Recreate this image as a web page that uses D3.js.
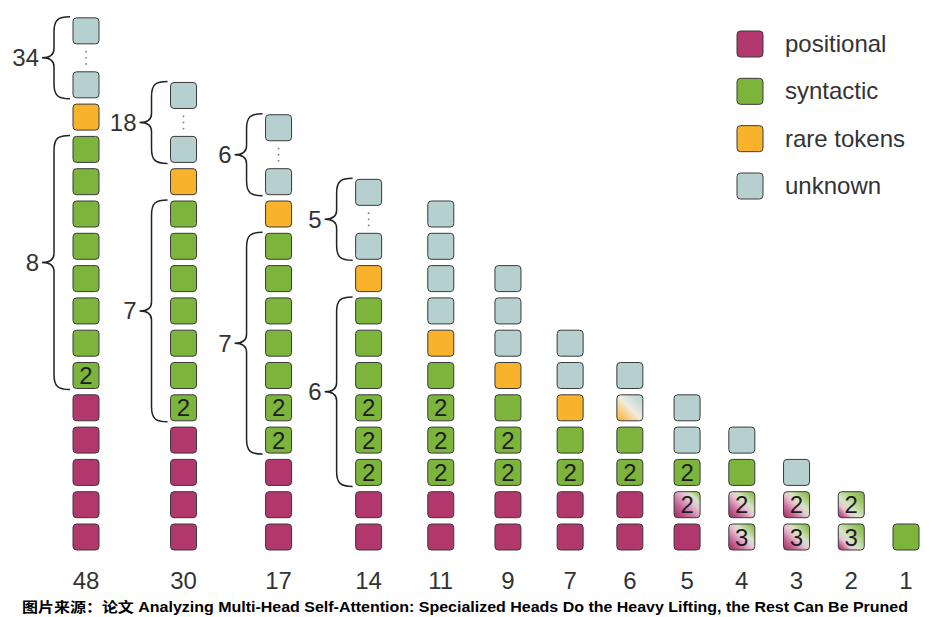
<!DOCTYPE html>
<html>
<head>
<meta charset="utf-8">
<script src="https://cdn.jsdelivr.net/npm/d3@7"></script>
<style>
  html, body { margin: 0; padding: 0; background: #fff; }
  svg { display: block; }
  text { font-family: "Liberation Sans", Arial, "Noto Sans CJK SC", sans-serif; }
</style>
</head>
<body>
<svg id="chart" width="941" height="617"></svg>
<script>
// ---------------- data ----------------
const colLabels = ["48", "30", "17", "14", "11", "9", "7", "6", "5", "4", "3", "2", "1"];
// Stack of heads in each column, bottom to top.
// P positional, S syntactic, S2 syntactic (x2), R rare tokens, U unknown,
// PS2 / PS3 mixed positional/syntactic, RU mixed rare/unknown
const stacks = [
  ["P","P","P","P","P","S2","S","S","S","S","S","S","S","R","U"],
  ["P","P","P","P","S2","S","S","S","S","S","S","R","U"],
  ["P","P","P","S2","S2","S","S","S","S","S","R","U"],
  ["P","P","S2","S2","S2","S","S","S","R","U"],
  ["P","P","S2","S2","S2","S","R","U","U","U","U"],
  ["P","P","S2","S2","S","R","U","U","U"],
  ["P","P","S2","S","R","U","U"],
  ["P","P","S2","S","RU","U"],
  ["P","PS2","S2","U","U"],
  ["PS3","PS2","S","U"],
  ["PS3","PS2","U"],
  ["PS3","PS2"],
  ["S"]
];
// number of unknown heads collapsed into the top group of a column (0 = none)
const collapsedUnknown = [34, 18, 6, 5, 0, 0, 0, 0, 0, 0, 0, 0, 0];
// share of the second function in mixed heads of each column
const mixShare = [0, 0, 0, 0, 0, 0, 0, 0.5, 0.25, 0.42, 0.45, 0.68, 0];
const legendLabels = ["positional", "syntactic", "rare tokens", "unknown"];
const legendKeys = ["P", "S", "R", "U"];
const caption = "图片来源：论文 Analyzing Multi-Head Self-Attention: Specialized Heads Do the Heavy Lifting, the Rest Can Be Pruned";

// ---------------- style ----------------
const colors = { P: "#b1376d", S: "#7db43c", R: "#f8b22c", U: "#b6d0d0" };
const SQ = 26, RX = 3.5;
const svg = d3.select("#chart");
const defs = svg.append("defs");

// ---------------- scales ----------------
// column slot width grows with column height, braced columns get extra room
const drawnCount = stacks.map((s, i) => s.length + (collapsedUnknown[i] ? 1 : 0));
const steps = drawnCount.map((n, i) => i === 0 ? 0 : Math.max(55, 45 + 2.5 * n) + (collapsedUnknown[i] ? 18 : 0));
const cum = [];
steps.reduce((a, s, i) => (cum[i] = a + s), 0);
const xUnits = d3.scaleLinear().domain([0, cum[cum.length - 1]]).range([86, 906]);
const xCol = i => xUnits(cum[i]);

const y = d3.scaleLinear().domain([0, 15]).range([537, 537 - 15 * 32.3]);
const collapseGap = 1.67;

// ---------------- gradients ----------------
function gradientFor(code, share) {
  const id = "g_" + code + "_" + Math.round(share * 100);
  if (!defs.select("#" + id).empty()) return id;
  const g = defs.append("linearGradient").attr("id", id)
    .attr("x1", 0).attr("y1", 1).attr("x2", 1).attr("y2", 0);
  const m = 1 - share;
  let stops;
  if (code === "RU") {
    stops = [[0, colors.R], [m * 0.55, "#f7cf86"], [m, "#f1ece0"], [m + (1 - m) * 0.55, "#c9dcdb"], [1, colors.U]];
  } else {
    stops = [[0, "#9c285b"], [m * 0.45, "#c8699a"], [m * 0.85, "#e6c3d3"], [m + (1 - m) * 0.15, "#d6e4c4"],
             [m + (1 - m) * 0.6, "#a3c96f"], [1, colors.S]];
  }
  g.selectAll("stop").data(stops).join("stop")
    .attr("offset", d => d[0]).attr("stop-color", d => d[1]);
  return id;
}

function fillFor(code, col) {
  if (code === "RU" || code === "PS2" || code === "PS3") return "url(#" + gradientFor(code === "RU" ? "RU" : "PS", mixShare[col]) + ")";
  return colors[code[0]];
}

// ---------------- build cells ----------------
const cells = [];
stacks.forEach((stack, c) => {
  stack.forEach((code, r) => {
    cells.push({ c, r, code });
    if (r === stack.length - 1 && collapsedUnknown[c]) {
      cells.push({ c, r: r + collapseGap, code });
    }
  });
});

const gCells = svg.append("g");
gCells.selectAll("rect").data(cells).join("rect")
  .attr("x", d => xCol(d.c) - SQ / 2)
  .attr("y", d => y(d.r) - SQ / 2)
  .attr("width", SQ).attr("height", SQ)
  .attr("rx", RX).attr("ry", RX)
  .attr("fill", d => fillFor(d.code, d.c))
  .attr("stroke", "#3a3a3a").attr("stroke-width", 1);

gCells.selectAll("text").data(cells.filter(d => /\d$/.test(d.code))).join("text")
  .attr("x", d => xCol(d.c))
  .attr("y", d => y(d.r) + 8.5)
  .attr("text-anchor", "middle")
  .attr("font-size", 24)
  .attr("fill", "#1e1e1e")
  .text(d => d.code.slice(-1));

// dots in collapsed groups
const dotData = [];
stacks.forEach((stack, c) => {
  if (!collapsedUnknown[c]) return;
  const r0 = stack.length - 1, mid = r0 + collapseGap / 2;
  [-0.19, 0, 0.19].forEach(o => dotData.push({ c, r: mid + o }));
});
svg.append("g").selectAll("circle").data(dotData).join("circle")
  .attr("cx", d => xCol(d.c)).attr("cy", d => y(d.r))
  .attr("r", 0.9).attr("fill", "#777");

// ---------------- braces ----------------
const braces = [];
stacks.forEach((stack, c) => {
  if (!collapsedUnknown[c]) return;
  const sRows = stack.map((k, r) => k[0] === "S" ? r : -1).filter(r => r >= 0);
  braces.push({ c, lo: d3.min(sRows), hi: d3.max(sRows), label: String(sRows.length) });
  const r0 = stack.length - 1;
  braces.push({ c, lo: r0, hi: r0 + collapseGap, label: String(collapsedUnknown[c]) });
});

function bracePath(xr, yt, yb) {
  const xv = xr - 16, xt = xr - 28, ym = (yt + yb) / 2;
  const r1 = Math.min(15, (yb - yt) / 4), r2 = 9;
  return `M${xr},${yt} C${xv + 4},${yt} ${xv},${yt + 3} ${xv},${yt + r1} L${xv},${ym - r2} Q${xv},${ym} ${xt},${ym}` +
         ` Q${xv},${ym} ${xv},${ym + r2} L${xv},${yb - r1} C${xv},${yb - 3} ${xv + 4},${yb} ${xr},${yb}`;
}

const gB = svg.append("g");
braces.forEach(b => {
  const xr = xCol(b.c) - SQ / 2 - 3;
  const yt = y(b.hi) - SQ / 2 - 1, yb = y(b.lo) + SQ / 2 + 1;
  gB.append("path").attr("d", bracePath(xr, yt, yb))
    .attr("fill", "none").attr("stroke", "#222").attr("stroke-width", 1.5);
  gB.append("text").attr("x", xr - 31).attr("y", (yt + yb) / 2 + 8.5)
    .attr("text-anchor", "end").attr("font-size", 24).attr("fill", "#333")
    .text(b.label);
});

// ---------------- column labels ----------------
svg.append("g").selectAll("text").data(colLabels).join("text")
  .attr("x", (d, i) => xCol(i)).attr("y", 589)
  .attr("text-anchor", "middle").attr("font-size", 24).attr("fill", "#333")
  .text(d => d);

// ---------------- legend ----------------
const ly = d3.scalePoint().domain(legendKeys).range([44, 186]);
const gL = svg.append("g");
gL.selectAll("rect").data(legendKeys).join("rect")
  .attr("x", 737).attr("y", d => ly(d) - SQ / 2)
  .attr("width", SQ).attr("height", SQ).attr("rx", RX).attr("ry", RX)
  .attr("fill", d => colors[d]).attr("stroke", "#3a3a3a").attr("stroke-width", 1);
gL.selectAll("text").data(legendKeys).join("text")
  .attr("x", 785).attr("y", d => ly(d) + 8)
  .attr("font-size", 24).attr("fill", "#333")
  .text((d, i) => legendLabels[i]);

// ---------------- caption ----------------
svg.append("text").attr("x", 22).attr("y", 612)
  .attr("font-size", 14).attr("font-weight", "bold").attr("fill", "#000")
  .attr("textLength", 886).attr("lengthAdjust", "spacingAndGlyphs")
  .text(caption);
</script>
</body>
</html>
